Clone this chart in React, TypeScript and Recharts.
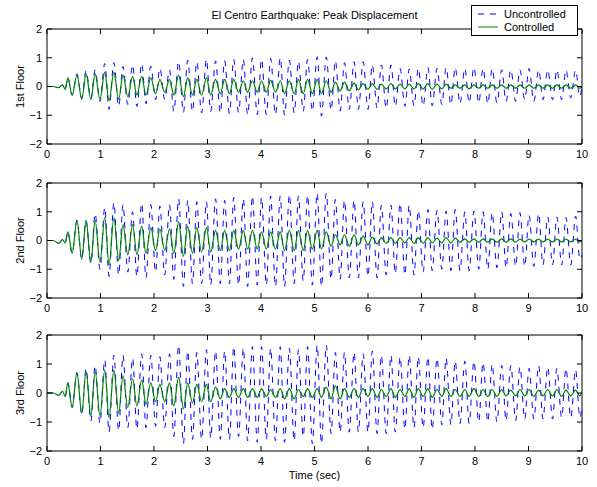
import { Legend, Line, LineChart, XAxis, YAxis } from "recharts";

const FONT = '"Liberation Sans", Arial, Helvetica, sans-serif';

// extremum times (sec), shared by all three floors
const time = [
  0, 0.12, 0.22, 0.29, 0.34,
  0.39, 0.47, 0.56, 0.65, 0.73, 0.82, 0.9, 0.99, 1.08, 1.16,
  1.25, 1.34, 1.42, 1.51, 1.6, 1.68, 1.77, 1.85, 1.94, 2.03,
  2.11, 2.2, 2.29, 2.37, 2.46, 2.55, 2.63, 2.72, 2.8, 2.89,
  2.98, 3.06, 3.15, 3.24, 3.32, 3.41, 3.49, 3.58, 3.67, 3.75,
  3.84, 3.93, 4.01, 4.1, 4.18, 4.27, 4.36, 4.44, 4.53, 4.62,
  4.7, 4.79, 4.87, 4.96, 5.05, 5.13, 5.22, 5.31, 5.39, 5.48,
  5.56, 5.65, 5.74, 5.82, 5.91, 6.0, 6.08, 6.17, 6.25, 6.34,
  6.43, 6.51, 6.6, 6.69, 6.77, 6.86, 6.94, 7.03, 7.12, 7.2,
  7.29, 7.38, 7.46, 7.55, 7.63, 7.72, 7.81, 7.89, 7.98, 8.07,
  8.15, 8.24, 8.32, 8.41, 8.5, 8.58, 8.67, 8.76, 8.84, 8.93,
  9.01, 9.1, 9.19, 9.27, 9.36, 9.45, 9.53, 9.62, 9.7, 9.79,
  9.88, 9.96, 10.0,
];

const floor1Unc = [
  0, 0, -0.04, 0.06, -0.1,
  0.3, -0.3, 0.44, -0.4, 0.55, -0.45, 0.58, -0.52, 0.8, -0.8,
  0.83, -0.69, 0.7, -0.63, 0.75, -0.69, 0.8, -0.6, 0.7, -0.46,
  0.63, -0.46, 0.58, -0.87, 0.87, -0.9, 0.92, -0.87, 0.86, -0.92,
  0.95, -0.87, 0.89, -0.92, 0.9, -0.94, 0.95, -0.9, 0.95, -0.98,
  1.0, -0.98, 0.95, -0.98, 0.98, -0.98, 1.0, -1.0, 0.92, -0.92,
  0.88, -0.86, 0.94, -0.86, 1.03, -1.03, 1.03, -0.83, 0.9, -0.86,
  0.83, -0.8, 0.86, -0.8, 0.86, -0.8, 0.75, -0.75, 0.75, -0.75,
  0.75, -0.69, 0.63, -0.69, 0.61, -0.67, 0.63, -0.67, 0.66, -0.67,
  0.63, -0.63, 0.66, -0.63, 0.66, -0.6, 0.63, -0.57, 0.66, -0.57,
  0.63, -0.6, 0.63, -0.57, 0.58, -0.52, 0.58, -0.52, 0.58, -0.46,
  0.63, -0.52, 0.58, -0.46, 0.58, -0.46, 0.58, -0.46, 0.58, -0.4,
  0.57, -0.35, 0.05,
];

const floor1Ctrl = [
  0, 0, -0.04, 0.06, -0.1,
  0.3, -0.3, 0.4, -0.45, 0.45, -0.45, 0.45, -0.45, 0.5, -0.5,
  0.5, -0.45, 0.4, -0.35, 0.35, -0.3, 0.35, -0.3, 0.3, -0.25,
  0.25, -0.2, 0.25, -0.3, 0.4, -0.35, 0.3, -0.3, 0.25, -0.3,
  0.3, -0.3, 0.25, -0.25, 0.25, -0.25, 0.25, -0.2, 0.2, -0.2,
  0.2, -0.2, 0.2, -0.2, 0.22, -0.2, 0.2, -0.25, 0.2, -0.25,
  0.25, -0.25, 0.25, -0.25, 0.25, -0.25, 0.2, -0.2, 0.15, -0.15,
  0.15, -0.15, 0.12, -0.12, 0.1, -0.1, 0.1, -0.1, 0.08, -0.08,
  0.1, -0.08, 0.08, -0.08, 0.08, -0.08, 0.1, -0.08, 0.1, -0.1,
  0.08, -0.08, 0.08, -0.06, 0.06, -0.06, 0.06, -0.08, 0.06, -0.06,
  0.06, -0.06, 0.06, -0.06, 0.06, -0.06, 0.06, -0.06, 0.06, -0.06,
  0.06, -0.06, 0.06, -0.06, 0.06, -0.06, 0.06, -0.06, 0.06, -0.06,
  0.06, -0.06, 0,
];

const floor2Unc = [
  0, 0, -0.1, 0.03, -0.08,
  0.3, -0.45, 0.7, -0.65, 0.7, -0.8, 0.94, -1.0, 1.15, -1.25,
  1.32, -1.2, 1.25, -1.1, 1.0, -1.25, 1.3, -1.3, 1.25, -1.1,
  1.2, -1.2, 1.25, -1.35, 1.45, -1.6, 1.4, -1.5, 1.35, -1.5,
  1.35, -1.55, 1.45, -1.5, 1.4, -1.5, 1.5, -1.55, 1.45, -1.6,
  1.55, -1.55, 1.5, -1.55, 1.55, -1.6, 1.55, -1.6, 1.6, -1.5,
  1.55, -1.4, 1.58, -1.55, 1.65, -1.6, 1.65, -1.35, 1.43, -1.35,
  1.4, -1.3, 1.4, -1.3, 1.35, -1.25, 1.35, -1.3, 1.23, -1.2,
  1.23, -1.15, 1.3, -1.2, 1.23, -1.2, 1.05, -1.1, 1.08, -1.05,
  1.05, -1.0, 1.03, -1.05, 1.08, -1.05, 1.0, -1.05, 1.03, -1.0,
  1.0, -1.0, 0.97, -0.95, 1.0, -0.95, 0.94, -0.9, 0.97, -0.9,
  0.88, -0.9, 0.94, -0.85, 0.82, -0.85, 0.82, -0.85, 0.8, -0.85,
  0.85, -0.65, -0.5,
];

const floor2Ctrl = [
  0, 0, -0.1, 0.03, -0.08,
  0.3, -0.45, 0.7, -0.65, 0.7, -0.75, 0.7, -0.75, 0.8, -0.85,
  0.8, -0.7, 0.55, -0.5, 0.55, -0.5, 0.5, -0.45, 0.45, -0.35,
  0.4, -0.35, 0.4, -0.45, 0.65, -0.55, 0.5, -0.45, 0.45, -0.4,
  0.45, -0.4, 0.35, -0.35, 0.35, -0.35, 0.35, -0.3, 0.35, -0.3,
  0.35, -0.3, 0.3, -0.3, 0.3, -0.3, 0.3, -0.35, 0.35, -0.35,
  0.35, -0.35, 0.35, -0.3, 0.35, -0.3, 0.3, -0.2, 0.2, -0.15,
  0.2, -0.2, 0.2, -0.15, 0.15, -0.15, 0.12, -0.12, 0.1, -0.1,
  0.1, -0.1, 0.1, -0.08, 0.1, -0.1, 0.1, -0.1, 0.1, -0.08,
  0.08, -0.08, 0.1, -0.08, 0.08, -0.06, 0.06, -0.06, 0.06, -0.06,
  0.06, -0.06, 0.06, -0.06, 0.06, -0.06, 0.06, -0.06, 0.05, -0.05,
  0.05, -0.05, 0.05, -0.05, 0.05, -0.05, 0.05, -0.05, 0.05, -0.05,
  0.05, -0.05, 0,
];

const floor3Unc = [
  0, 0, -0.08, 0.06, -0.12,
  0.35, -0.5, 0.7, -0.75, 0.85, -0.97, 0.95, -1.05, 1.15, -1.35,
  1.3, -1.3, 1.3, -1.2, 1.2, -1.25, 1.35, -1.2, 1.3, -1.15,
  1.25, -1.2, 1.35, -1.5, 1.65, -1.75, 1.45, -1.6, 1.4, -1.6,
  1.5, -1.55, 1.45, -1.6, 1.45, -1.6, 1.6, -1.5, 1.55, -1.65,
  1.6, -1.7, 1.6, -1.6, 1.55, -1.65, 1.6, -1.7, 1.55, -1.65,
  1.5, -1.5, 1.6, -1.75, 1.65, -1.75, 1.65, -1.4, 1.4, -1.35,
  1.4, -1.35, 1.4, -1.35, 1.35, -1.35, 1.45, -1.4, 1.3, -1.4,
  1.3, -1.35, 1.25, -1.25, 1.3, -1.2, 1.25, -1.2, 1.25, -1.25,
  1.2, -1.1, 1.2, -1.1, 1.1, -1.05, 1.1, -1.05, 1.1, -1.0,
  1.05, -1.0, 1.0, -1.0, 0.95, -0.95, 0.95, -0.95, 0.9, -0.9,
  0.85, -0.9, 0.95, -0.9, 0.9, -0.9, 0.85, -0.85, 0.85, -0.85,
  0.8, -0.85, -0.4,
];

const floor3Ctrl = [
  0, 0, -0.08, 0.06, -0.12,
  0.35, -0.5, 0.7, -0.7, 0.75, -0.8, 0.75, -0.8, 0.8, -0.85,
  0.8, -0.7, 0.6, -0.5, 0.5, -0.45, 0.45, -0.4, 0.35, -0.3,
  0.3, -0.3, 0.35, -0.45, 0.55, -0.55, 0.35, -0.35, 0.3, -0.3,
  0.3, -0.3, 0.2, -0.2, 0.15, -0.15, 0.15, -0.15, 0.15, -0.15,
  0.15, -0.15, 0.15, -0.12, 0.12, -0.15, 0.15, -0.2, 0.15, -0.2,
  0.12, -0.12, 0.15, -0.15, 0.15, -0.15, 0.2, -0.2, 0.25, -0.2,
  0.15, -0.15, 0.15, -0.15, 0.15, -0.12, 0.15, -0.15, 0.12, -0.12,
  0.15, -0.15, 0.12, -0.12, 0.15, -0.15, 0.15, -0.12, 0.15, -0.15,
  0.12, -0.12, 0.15, -0.12, 0.12, -0.12, 0.12, -0.12, 0.15, -0.12,
  0.12, -0.12, 0.12, -0.12, 0.12, -0.1, 0.1, -0.1, 0.12, -0.1,
  0.12, -0.12, 0.1, -0.1, 0.12, -0.1, 0.12, -0.12, 0.1, -0.1,
  0.1, -0.1, 0.05,
];

const xTicks = [0, 1, 2, 3, 4, 5, 6, 7, 8, 9, 10];
const yTicks = [-2, -1, 0, 1, 2];
const seriesOrder = ["u", "c"];

const fmtY = (v: number) => (v < 0 ? `\u2212${Math.abs(v)}` : `${v}`);
const noLabel = () => <g />;

function floorLabel(text: string) {
  return (props: any) => {
    const vb = props.viewBox || { x: 0, y: 0, height: 0 };
    const cx = vb.x + 20;
    const cy = vb.y + vb.height / 2;
    return (
      <text
        x={cx}
        y={cy}
        transform={`rotate(-90, ${cx}, ${cy})`}
        textAnchor="middle"
        dominantBaseline="central"
        fontFamily={FONT}
        fontSize={11}
        fill="#000"
      >
        {text}
      </text>
    );
  };
}

function renderLegend(props: any) {
  const payload = [...(props.payload || [])].sort(
    (a: any, b: any) => seriesOrder.indexOf(a.dataKey) - seriesOrder.indexOf(b.dataKey)
  );
  return (
    <div
      style={{
        width: 107,
        height: 31,
        boxSizing: "border-box",
        border: "1px solid #000",
        background: "#fff",
        paddingTop: 1.5,
        fontFamily: FONT,
        fontSize: 11,
        color: "#000",
      }}
    >
      {payload.map((p: any) => (
        <div key={p.value} style={{ display: "flex", alignItems: "center", height: 13 }}>
          <svg width={26} height={10} style={{ display: "block" }}>
            <line
              x1={6}
              x2={26}
              y1={5}
              y2={5}
              stroke={p.color}
              strokeWidth={1}
              strokeDasharray={p.payload?.strokeDasharray}
            />
          </svg>
          <span style={{ marginLeft: 6, lineHeight: "13px" }}>{p.value}</span>
        </div>
      ))}
    </div>
  );
}

type PanelProps = {
  top: number;
  marginTop: number;
  plotHeight: number;
  axisHeight: number;
  label: string;
  unc: number[];
  ctrl: number[];
  legend?: boolean;
  xLabel?: string;
};

function FloorPanel({ top, marginTop, plotHeight, axisHeight, label, unc, ctrl, legend, xLabel }: PanelProps) {
  const data = time.map((t, i) => ({ t, u: unc[i], c: ctrl[i] }));
  const tickStyle = { fill: "#000", fontSize: 11, fontFamily: FONT };
  const frameX = {
    dataKey: "t",
    type: "number" as const,
    domain: [0, 10],
    allowDataOverflow: true,
    ticks: xTicks,
    interval: 0 as const,
    mirror: true,
    tick: noLabel,
    tickSize: 5,
    tickLine: { stroke: "#000" },
  };
  const frameY = {
    dataKey: "u",
    type: "number" as const,
    domain: [-2, 2],
    allowDataOverflow: true,
    ticks: yTicks,
    interval: 0 as const,
    mirror: true,
    tick: noLabel,
    tickSize: 5,
    tickLine: { stroke: "#000" },
  };
  return (
    <div style={{ position: "absolute", left: 0, top }}>
      <LineChart
        width={597}
        height={marginTop + plotHeight + axisHeight}
        data={data}
        margin={{ top: marginTop, right: 15, bottom: 0, left: 0 }}
      >
        <XAxis
          xAxisId="x"
          dataKey="t"
          type="number"
          domain={[0, 10]}
          allowDataOverflow
          ticks={xTicks}
          interval={0}
          height={axisHeight}
          tickLine={false}
          tickSize={0}
          tickMargin={6}
          axisLine={{ stroke: "#000" }}
          tick={tickStyle}
          label={
            xLabel
              ? { value: xLabel, position: "insideBottom", offset: 8, fill: "#000", fontSize: 11, fontFamily: FONT }
              : undefined
          }
        />
        <XAxis xAxisId="xb" orientation="bottom" axisLine={false} {...frameX} />
        <XAxis xAxisId="xt" orientation="top" axisLine={{ stroke: "#000" }} {...frameX} />
        <YAxis
          yAxisId="y"
          type="number"
          domain={[-2, 2]}
          allowDataOverflow
          ticks={yTicks}
          interval={0}
          width={47}
          tickLine={false}
          tickSize={0}
          tickMargin={5}
          tickFormatter={fmtY}
          axisLine={{ stroke: "#000" }}
          tick={tickStyle}
          label={floorLabel(label)}
        />
        <YAxis yAxisId="yl" orientation="left" axisLine={false} {...frameY} />
        <YAxis yAxisId="yr" orientation="right" axisLine={{ stroke: "#000" }} {...frameY} />
        <Line
          xAxisId="x"
          yAxisId="y"
          dataKey="u"
          name="Uncontrolled"
          type="monotone"
          stroke="#0000ff"
          strokeWidth={1}
          strokeDasharray="6 6"
          dot={false}
          isAnimationActive={false}
        />
        <Line
          xAxisId="x"
          yAxisId="y"
          dataKey="c"
          name="Controlled"
          type="monotone"
          stroke="#008000"
          strokeWidth={1.2}
          dot={false}
          isAnimationActive={false}
        />
        {legend && (
          <Legend
            layout="horizontal"
            verticalAlign="middle"
            align="center"
            content={renderLegend}
            wrapperStyle={{ top: 5, left: 471, width: 107, height: 31 }}
          />
        )}
      </LineChart>
    </div>
  );
}

export default function App() {
  return (
    <div style={{ position: "absolute", left: 0, top: 0, width: 597, height: 487, background: "#fff", overflow: "hidden" }}>
      <div
        style={{
          position: "absolute",
          left: 47,
          top: 8,
          width: 535,
          textAlign: "center",
          fontFamily: FONT,
          fontSize: 11,
          lineHeight: "14px",
          color: "#000",
        }}
      >
        El Centro Earthquake: Peak Displacement
      </div>
      <FloorPanel top={0} marginTop={29} plotHeight={115} axisHeight={26} label="1st Floor" unc={floor1Unc} ctrl={floor1Ctrl} legend />
      <FloorPanel top={173} marginTop={10} plotHeight={115} axisHeight={26} label="2nd Floor" unc={floor2Unc} ctrl={floor2Ctrl} />
      <FloorPanel top={325} marginTop={10} plotHeight={116} axisHeight={36} label="3rd Floor" unc={floor3Unc} ctrl={floor3Ctrl} xLabel="Time (sec)" />
    </div>
  );
}
